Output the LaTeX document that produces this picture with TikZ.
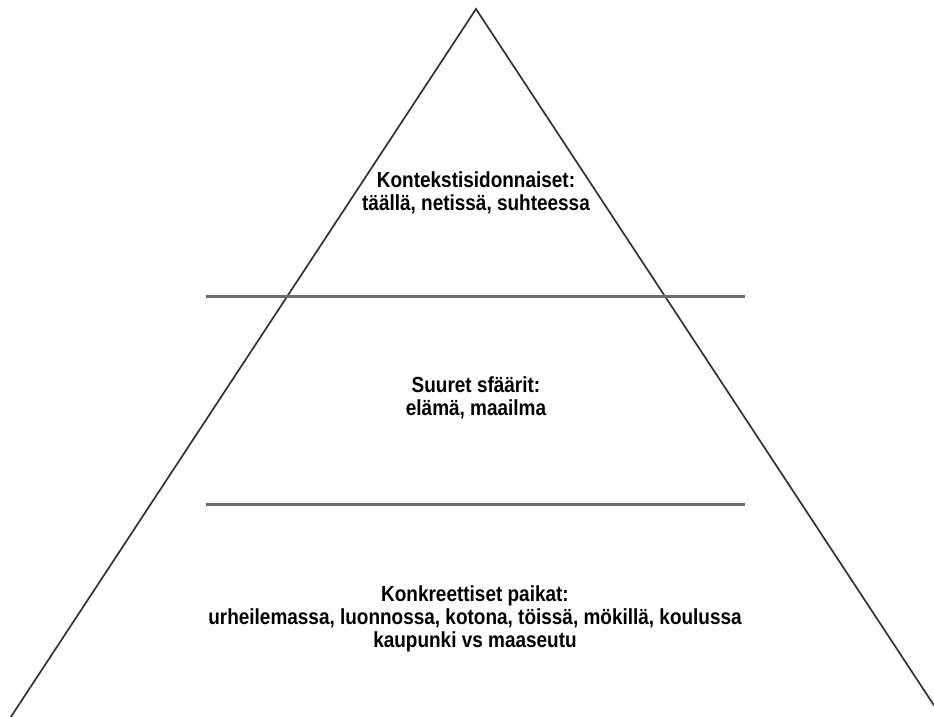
\documentclass[tikz,border=0pt]{standalone}
\usepackage{fontspec}
\setmainfont{Liberation Sans}
\newfontfamily\levelfont{Liberation Sans}[FakeStretch=0.87]
\begin{document}
\begin{tikzpicture}[x=1pt,y=-1pt,
  side/.style={draw=black!80,line width=1.7pt},
  divider/.style={draw=black!58,line width=2.6pt},
  label/.style={align=center,inner sep=0pt,font=\levelfont\fontsize{21.8}{23}\selectfont\bfseries}]
  \useasboundingbox[fill=white] (0,0) rectangle (934,717);
  % pyramid outline
  \coordinate (apex) at (476,9);
  \coordinate (baseL) at (10.5,717.5);
  \coordinate (baseR) at (942,717.5);
  \begin{scope}
    \clip (0,0) rectangle (934,717);
    \draw[side] (baseL) -- (apex) -- (baseR);
  \end{scope}
  % level dividers
  \coordinate (d1L) at (206,296.5);
  \coordinate (d1R) at (745,296.5);
  \coordinate (d2L) at (206,504.5);
  \coordinate (d2R) at (745,504.5);
  \draw[divider] (d1L) -- (d1R);
  \draw[divider] (d2L) -- (d2R);
  % level texts
  \node[label] (top) at (476,193) {Kontekstisidonnaiset:\\täällä, netissä, suhteessa};
  \node[label] (mid) at (476,398) {Suuret sfäärit:\\elämä, maailma};
  \node[label] (bot) at (475,619) {Konkreettiset paikat:\\urheilemassa, luonnossa, kotona, töissä, mökillä, koulussa\\kaupunki vs maaseutu};
\end{tikzpicture}
\end{document}
